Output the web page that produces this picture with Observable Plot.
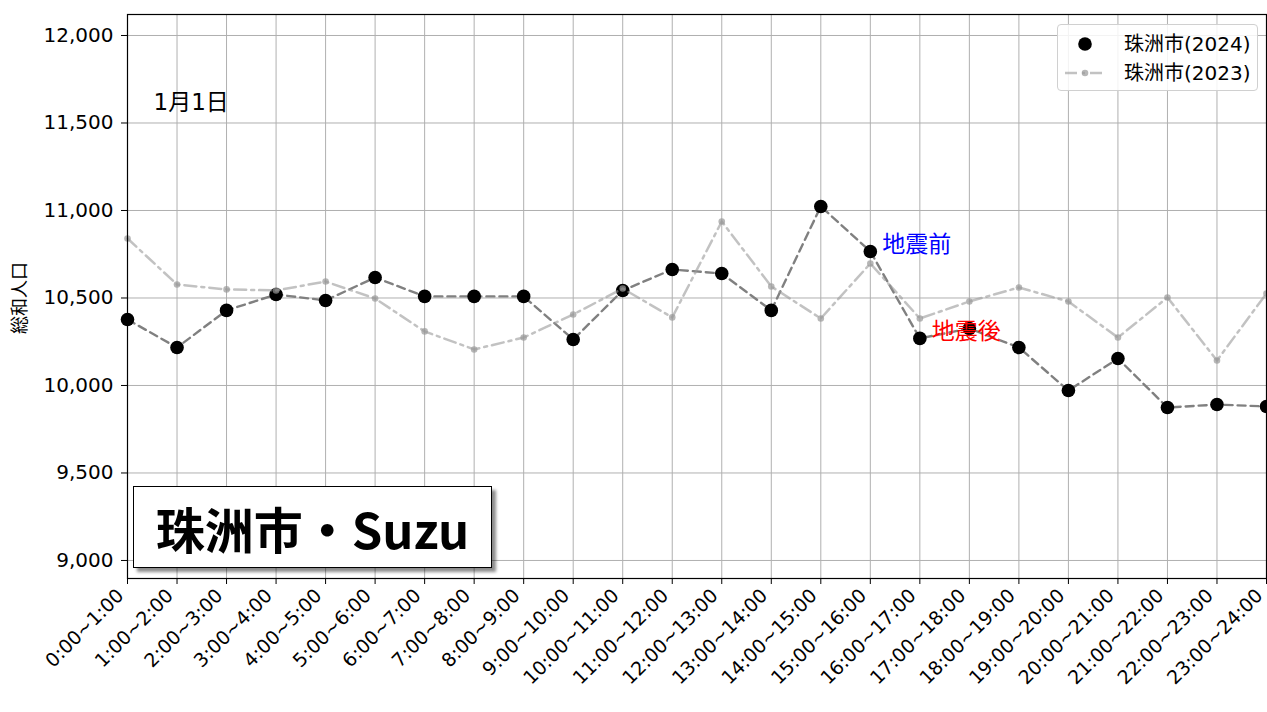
<!DOCTYPE html>
<html>
<head>
<meta charset="utf-8">
<script src="https://cdn.jsdelivr.net/npm/d3@7"></script>
<script src="https://cdn.jsdelivr.net/npm/@observablehq/plot@0.6"></script>
<style>
  body { margin: 0; background: white; }
  #wrap { position: relative; width: 1267px; height: 712px; font-family: "DejaVu Sans", "Noto Sans CJK JP", sans-serif; }
  #titlebox { position: absolute; left: 133px; top: 486px; width: 357px; height: 80px; border: 1.5px solid #000; background: #fff;
    box-shadow: 4px 4px 3px rgba(0,0,0,0.45); display: flex; align-items: center; justify-content: center;
    font-family: "Noto Sans CJK JP", sans-serif; font-weight: 700; font-size: 49px; color: #000; }
  #legend { position: absolute; left: 1057px; top: 24px; width: 199px; height: 65px; border: 1px solid #d0d0d0; border-radius: 4px;
    background: rgba(255,255,255,0.85); font-family: "DejaVu Sans", "Noto Sans CJK JP", sans-serif; font-size: 20px; }
  .lrow { position: absolute; left: 0; height: 24px; width: 199px; }
  .lrow svg { position: absolute; left: 0; top: 0; display: block; }
  .lrow span { position: absolute; left: 66px; top: 0; line-height: 24px; white-space: nowrap; }
  #ylabel { position: absolute; left: 18px; top: 298px; transform: translate(-50%, -50%) rotate(-90deg);
    font-family: "Noto Sans CJK JP", sans-serif; font-size: 18px; white-space: nowrap; line-height: 1; }
</style>
</head>
<body>
<div id="wrap"></div>
<script>
const timeLabels = ["0:00~1:00","1:00~2:00","2:00~3:00","3:00~4:00","4:00~5:00","5:00~6:00","6:00~7:00","7:00~8:00","8:00~9:00","9:00~10:00","10:00~11:00","11:00~12:00","12:00~13:00","13:00~14:00","14:00~15:00","15:00~16:00","16:00~17:00","17:00~18:00","18:00~19:00","19:00~20:00","20:00~21:00","21:00~22:00","22:00~23:00","23:00~24:00"];
const pop2024 = [10377,10217,10429,10520,10486,10617,10509,10509,10509,10263,10543,10663,10640,10429,11023,10766,10269,10326,10217,9971,10154,9874,9891,9880];
const pop2023 = [10840,10577,10549,10543,10594,10497,10309,10206,10274,10406,10554,10389,10937,10566,10383,10697,10383,10480,10560,10480,10274,10503,10143,10526];
const yTicks = [9000,9500,10000,10500,11000,11500,12000];
const annotations = [
  {idx: 15, text: "地震前", color: "blue"},
  {idx: 16, text: "地震後", color: "red"}
];
const seriesNames = ["珠洲市(2024)", "珠洲市(2023)"];
const titleText = "珠洲市・Suzu";
const dateText = "1月1日";
const yLabel = "総和人口";

const d24 = timeLabels.map((t, i) => ({t, v: pop2024[i]}));
const d23 = timeLabels.map((t, i) => ({t, v: pop2023[i]}));
const ann = annotations.map(a => ({t: timeLabels[a.idx], v: pop2024[a.idx], text: a.text, color: a.color}));

const chart = Plot.plot({
  width: 1267,
  height: 712,
  marginLeft: 127,
  marginRight: 1,
  marginTop: 14,
  marginBottom: 134,
  style: {fontFamily: "DejaVu Sans, Noto Sans CJK JP, sans-serif", fontSize: "20px", color: "#000", background: "white"},
  x: {type: "point", domain: timeLabels, padding: 0, round: false, label: null},
  y: {domain: [8897, 12120], label: null},
  marks: [
    Plot.gridX(timeLabels, {stroke: "#b0b0b0", strokeOpacity: 1, strokeWidth: 1}),
    Plot.gridY(yTicks, {stroke: "#b0b0b0", strokeOpacity: 1, strokeWidth: 1}),
    Plot.axisY(yTicks, {tickFormat: d3.format(","), tickSize: 6, tickPadding: 8, fontSize: 20, label: null}),
    Plot.axisX(timeLabels, {tickRotate: -45, tickSize: 6, tickPadding: 4, fontSize: 19, label: null, textStroke: "none"}),
    Plot.line(d24, {x: "t", y: "v", stroke: "#808080", strokeWidth: 2.4, strokeDasharray: "8,5"}),
    Plot.dot(d24, {x: "t", y: "v", r: 6.8, fill: "#000", stroke: "none"}),
    Plot.line(d23, {x: "t", y: "v", stroke: "#999", strokeOpacity: 0.6, strokeWidth: 2.5, strokeDasharray: "12,5,3,5"}),
    Plot.dot(d23, {x: "t", y: "v", r: 3.3, fill: "#999", fillOpacity: 0.7, stroke: "none"}),
    Plot.text(ann, {x: "t", y: "v", text: "text", fill: "color", dx: 12, dy: -7, textAnchor: "start", fontSize: 23, fontFamily: "Noto Sans CJK JP, sans-serif"}),
    Plot.text([dateText], {frameAnchor: "top-left", dx: 26, dy: 79, textAnchor: "start", fontSize: 23, fontFamily: "DejaVu Sans, Noto Sans CJK JP, sans-serif", fill: "#000"}),
    Plot.frame({stroke: "#000", strokeWidth: 1.2})
  ]
});

const wrap = document.getElementById("wrap");
wrap.appendChild(chart);

// shift rotated x tick labels slightly left/down so the last label stays inside the picture
const xLabelGroup = chart.querySelector("g[aria-label='x-axis tick label']");
if (xLabelGroup) {
  const prev = xLabelGroup.getAttribute("transform") || "";
  xLabelGroup.setAttribute("transform", (prev + " translate(-7,4)").trim());
}

const yl = document.createElement("div");
yl.id = "ylabel";
yl.textContent = yLabel;
wrap.appendChild(yl);

const title = document.createElement("div");
title.id = "titlebox";
title.textContent = titleText;
wrap.appendChild(title);

const legend = document.createElement("div");
legend.id = "legend";
legend.innerHTML = `
  <div class="lrow" style="top:7px;">
    <svg width="60" height="24"><circle cx="27" cy="12" r="6.8" fill="#000"/></svg>
    <span>${seriesNames[0]}</span>
  </div>
  <div class="lrow" style="top:36px;">
    <svg width="60" height="24"><line x1="7" y1="12" x2="49" y2="12" stroke="#999" stroke-opacity="0.6" stroke-width="2.5" stroke-dasharray="12,5,3,5"/><circle cx="27" cy="12" r="3.3" fill="#999" fill-opacity="0.7"/></svg>
    <span>${seriesNames[1]}</span>
  </div>`;
wrap.appendChild(legend);
</script>
</body>
</html>
